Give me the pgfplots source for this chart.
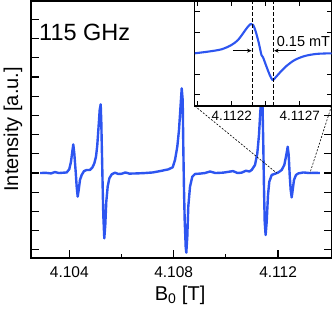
\documentclass[border=0pt]{standalone}
\usepackage{fontspec}
\setmainfont{Liberation Sans}
\usepackage{pgfplots}
\pgfplotsset{compat=1.18}
\usetikzlibrary{arrows.meta}
\definecolor{lineblue}{RGB}{45,85,240}

% x values: field offset from 4.1 T, in mT (labels carry the real field in T)
\begin{document}
\begin{tikzpicture}
\begin{axis}[
    name=main,
    scale only axis,
    width=300.5bp, height=256.7bp,
    xmin=2.533, xmax=14.046,
    ymin=-4.41, ymax=8.96,
    axis line style={line width=1.6bp},
    tick align=inside,
    xtick pos=left, ytick pos=both,
    xtick={4,8,12},
    xticklabels={4.104,4.108,4.112},
    minor xtick={6,10},
    ytick={-4,...,8},
    yticklabels={},
    major tick length=8bp, minor tick length=4bp,
    tick style={black, line width=1.2bp},
    xticklabel style={font=\fontsize{15.5bp}{18bp}\selectfont, anchor=base, yshift=-19.6bp},
    xlabel={B\textsubscript{0} [T]},
    xlabel style={at={(axis description cs:0.496,-0.1648)}, anchor=base, inner sep=0pt,
        font=\fontsize{20bp}{24bp}\selectfont},
    ylabel={Intensity [a.u.]},
    ylabel style={at={(axis description cs:-0.0283,0.5)}, anchor=south, inner sep=0pt,
        font=\fontsize{20bp}{24bp}\selectfont},
]
\addplot[lineblue, line width=2.4bp, line join=round] coordinates {
(2.88,0) (3.10,0.01) (3.30,-0.02) (3.45,0.05) (3.60,0.0) (3.80,0.02) (3.90,0.03)
(4.00,0.2) (4.065,0.59) (4.115,1.11) (4.153,1.49) (4.192,1.02) (4.245,0.07)
(4.283,-0.71) (4.322,-1.23) (4.36,-0.89) (4.41,-0.36) (4.475,-0.10) (4.563,0.10)
(4.667,0.16) (4.793,0.16) (4.881,0.28) (4.958,0.5) (5.023,0.85) (5.073,1.46)
(5.126,2.5) (5.165,3.28) (5.203,3.58) (5.226,2.67) (5.253,0.94) (5.28,-0.80)
(5.303,-2.19) (5.341,-3.40) (5.379,-2.71) (5.418,-1.49) (5.471,-0.71) (5.533,-0.28)
(5.624,-0.07) (5.75,0.02) (5.877,-0.05)
(6.0,-0.04) (6.15,0.03) (6.3,-0.03) (6.6,-0.02) (6.9,0.0) (7.2,0.03) (7.475,0.1)
(7.793,0.19) (7.962,0.3) (8.05,0.68) (8.138,1.37) (8.203,2.24) (8.253,3.28)
(8.307,4.41) (8.345,3.8) (8.368,1.37) (8.395,-0.89) (8.421,-2.45) (8.46,-3.84)
(8.483,-4.15) (8.521,-3.32) (8.559,-1.75) (8.625,-0.71) (8.713,-0.19) (8.816,-0.05)
(9.008,-0.03)
(9.2,0.0) (9.39,0.08) (9.6,0.0) (9.9,0.02) (10.27,0.1) (10.45,0.0) (10.6,0.02)
(10.77,0.12) (10.9,0.08) (10.989,0.16) (11.115,0.42) (11.203,1.02) (11.268,1.98)
(11.318,3.19) (11.35,3.7) (11.378,3.85) (11.405,3.4) (11.433,1.46) (11.46,-0.8)
(11.487,-2.54) (11.522,-3.23) (11.563,-2.54) (11.613,-1.15) (11.663,-0.45)
(11.755,-0.1) (11.881,-0.04) (12.008,0.03)
(12.138,0.16) (12.238,0.42) (12.314,0.94) (12.368,1.37) (12.406,0.94) (12.444,-0.1)
(12.483,-0.89) (12.521,-1.27) (12.559,-0.89) (12.609,-0.36) (12.686,-0.10)
(12.774,-0.02) (12.966,0.03) (13.2,0.0) (13.4,0.01) (13.6,0.0)
};
\node[anchor=west, inner sep=0pt, font=\fontsize{23.5bp}{28bp}\selectfont]
    at (axis cs:2.84,7.34) {115 GHz};
\coordinate (zl) at (axis cs:11.946,0);
\coordinate (zr) at (axis cs:13.22,0);
\end{axis}

\begin{axis}[
    name=inset,
    at={(main.north east)}, anchor=north east,
    scale only axis,
    width=136.7bp, height=105bp,
    xmin=11.928, xmax=12.933,
    ymin=-2.53, ymax=2.51,
    axis background/.style={fill=white},
    axis line style={line width=1.2bp},
    tick align=inside,
    xtick pos=both, ytick pos=both,
    xtick={12.2,12.7},
    xticklabels={4.1122,4.1127},
    minor xtick={11.95,12.45},
    ytick={-2,...,2},
    yticklabels={},
    major tick length=5bp, minor tick length=5bp,
    tick style={black, line width=1bp},
    xticklabel style={font=\fontsize{13.5bp}{16bp}\selectfont, anchor=base, yshift=-14.5bp},
]
\addplot[lineblue, line width=2.1bp, smooth, line join=round] coordinates {
(11.928,0) (12.026,0.08) (12.124,0.19) (12.198,0.4) (12.246,0.64) (12.283,0.96)
(12.315,1.25) (12.34,1.41) (12.357,1.36) (12.376,1.04) (12.399,0.48) (12.418,-0.08)
(12.43,-0.2) (12.455,-0.64) (12.479,-1.04) (12.499,-1.28) (12.516,-1.2) (12.553,-0.93)
(12.602,-0.61) (12.663,-0.32) (12.737,-0.13) (12.823,-0.03) (12.933,0)
};
\draw[black, line width=0.9bp, dash pattern=on 3.5bp off 2.5bp]
    (axis cs:12.352,-2.53) -- (axis cs:12.352,2.51)
    (axis cs:12.504,-2.53) -- (axis cs:12.504,2.51);
\draw[-{Stealth[length=4.5bp,width=4bp]}, line width=0.9bp]
    (axis cs:12.207,0.125) -- (axis cs:12.345,0.125);
\draw[-{Stealth[length=4.5bp,width=4bp]}, line width=0.9bp]
    (axis cs:12.67,0.125) -- (axis cs:12.511,0.125);
\node[anchor=west, inner sep=0pt, font=\fontsize{14.5bp}{17bp}\selectfont]
    at (axis cs:12.53,0.56) {0.15 mT};
\end{axis}

\draw[black, line width=0.6bp, dash pattern=on 2bp off 1.5bp]
    (inset.south west) -- (zl)
    (inset.south east) -- (zr);

\pgfresetboundingbox
\useasboundingbox ([xshift=-31bp,yshift=-54.3bp]main.south west)
    rectangle ([xshift=1.5bp,yshift=1bp]main.north east);
\end{tikzpicture}
\end{document}
